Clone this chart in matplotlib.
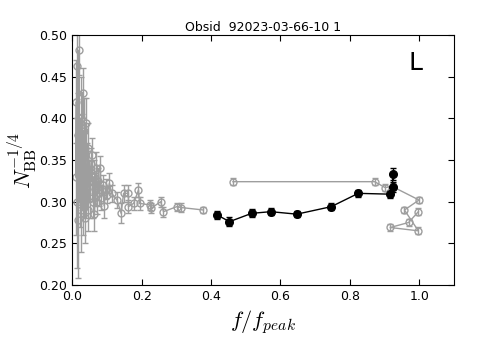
import matplotlib
matplotlib.use("Agg")
import matplotlib.pyplot as plt

# low-frequency cluster (grey, open circles)
f_grey1 = [0.010, 0.012, 0.013, 0.015, 0.016, 0.018, 0.020, 0.020, 0.022, 0.024,
           0.025, 0.027, 0.028, 0.030, 0.031, 0.033, 0.035, 0.036, 0.038, 0.040,
           0.041, 0.043, 0.045, 0.047, 0.049, 0.052, 0.054, 0.057, 0.059, 0.062,
           0.064, 0.067, 0.070, 0.072, 0.075, 0.078, 0.081, 0.084, 0.088, 0.092,
           0.096, 0.100, 0.107, 0.114, 0.129, 0.141, 0.148, 0.162, 0.162, 0.177,
           0.191, 0.194, 0.225, 0.227, 0.255, 0.263, 0.301, 0.313, 0.378]
v_grey1 = [0.330, 0.420, 0.300, 0.463, 0.278, 0.380, 0.482, 0.350, 0.310, 0.400,
           0.290, 0.365, 0.330, 0.431, 0.300, 0.385, 0.320, 0.280, 0.355, 0.395,
           0.310, 0.340, 0.290, 0.365, 0.325, 0.305, 0.345, 0.356, 0.300, 0.330,
           0.285, 0.315, 0.340, 0.300, 0.325, 0.310, 0.340, 0.305, 0.320, 0.295,
           0.315, 0.308, 0.322, 0.310, 0.302, 0.286, 0.310, 0.310, 0.294, 0.298,
           0.314, 0.298, 0.296, 0.292, 0.300, 0.288, 0.294, 0.293, 0.290]
e_grey1 = [0.070, 0.050, 0.080, 0.040, 0.070, 0.050, 0.030, 0.050, 0.040, 0.050,
           0.050, 0.040, 0.040, 0.030, 0.040, 0.040, 0.030, 0.030, 0.030, 0.030,
           0.030, 0.030, 0.025, 0.030, 0.025, 0.025, 0.020, 0.020, 0.020, 0.020,
           0.020, 0.020, 0.020, 0.015, 0.015, 0.015, 0.015, 0.015, 0.012, 0.015,
           0.012, 0.010, 0.012, 0.010, 0.010, 0.012, 0.010, 0.010, 0.008, 0.008,
           0.008, 0.008, 0.006, 0.006, 0.006, 0.006, 0.005, 0.005, 0.004]

# high-frequency grey track
f_grey2 = [0.463, 0.871, 0.901, 0.923, 0.999, 0.957, 0.997, 0.916, 0.969, 0.997]
v_grey2 = [0.324, 0.324, 0.317, 0.318, 0.302, 0.290, 0.265, 0.269, 0.275, 0.288]
e_grey2 = [0.004, 0.004, 0.004, 0.004, 0.004, 0.004, 0.004, 0.004, 0.004, 0.004]

# black points
f_black = [0.418, 0.453, 0.517, 0.572, 0.647, 0.746, 0.824, 0.916, 0.923, 0.923]
v_black = [0.284, 0.276, 0.286, 0.288, 0.285, 0.294, 0.310, 0.309, 0.318, 0.333]
e_black = [0.005, 0.005, 0.005, 0.004, 0.004, 0.004, 0.004, 0.005, 0.006, 0.007]

plt.rcParams['mathtext.fontset'] = 'cm'

fig = plt.figure(figsize=(4.78, 3.58), dpi=100)
ax = fig.add_axes([0.151, 0.204, 0.799, 0.698])

grey = '#9e9e9e'
for f, v, e in [(f_grey1, v_grey1, e_grey1), (f_grey2, v_grey2, e_grey2)]:
    ax.errorbar(f, v, yerr=e, color=grey, marker='o', mfc='none', mec=grey,
                ms=5, lw=1, capsize=2.5, elinewidth=1)
ax.errorbar(f_black, v_black, yerr=e_black, color='black', marker='o', ms=5.5,
            lw=1, capsize=2.5, elinewidth=1)

ax.set_xlim(0, 1.1)
ax.set_ylim(0.2, 0.5)
ax.set_xticks([0.0, 0.2, 0.4, 0.6, 0.8, 1.0])
ax.set_yticks([0.20, 0.25, 0.30, 0.35, 0.40, 0.45, 0.50])
ax.tick_params(direction='in', top=True, right=True, labelsize=9, length=4)
ax.set_title('Obsid  92023-03-66-10 1', fontsize=9, pad=3)
ax.set_xlabel(r'$f/f_{peak}$', fontsize=16)
ax.set_ylabel(r'$N_{\rm BB}^{-1/4}$', fontsize=16, labelpad=0)
ax.text(0.9, 0.86, 'L', transform=ax.transAxes, fontsize=18, ha='center')

fig.savefig('out.png', dpi=100)
